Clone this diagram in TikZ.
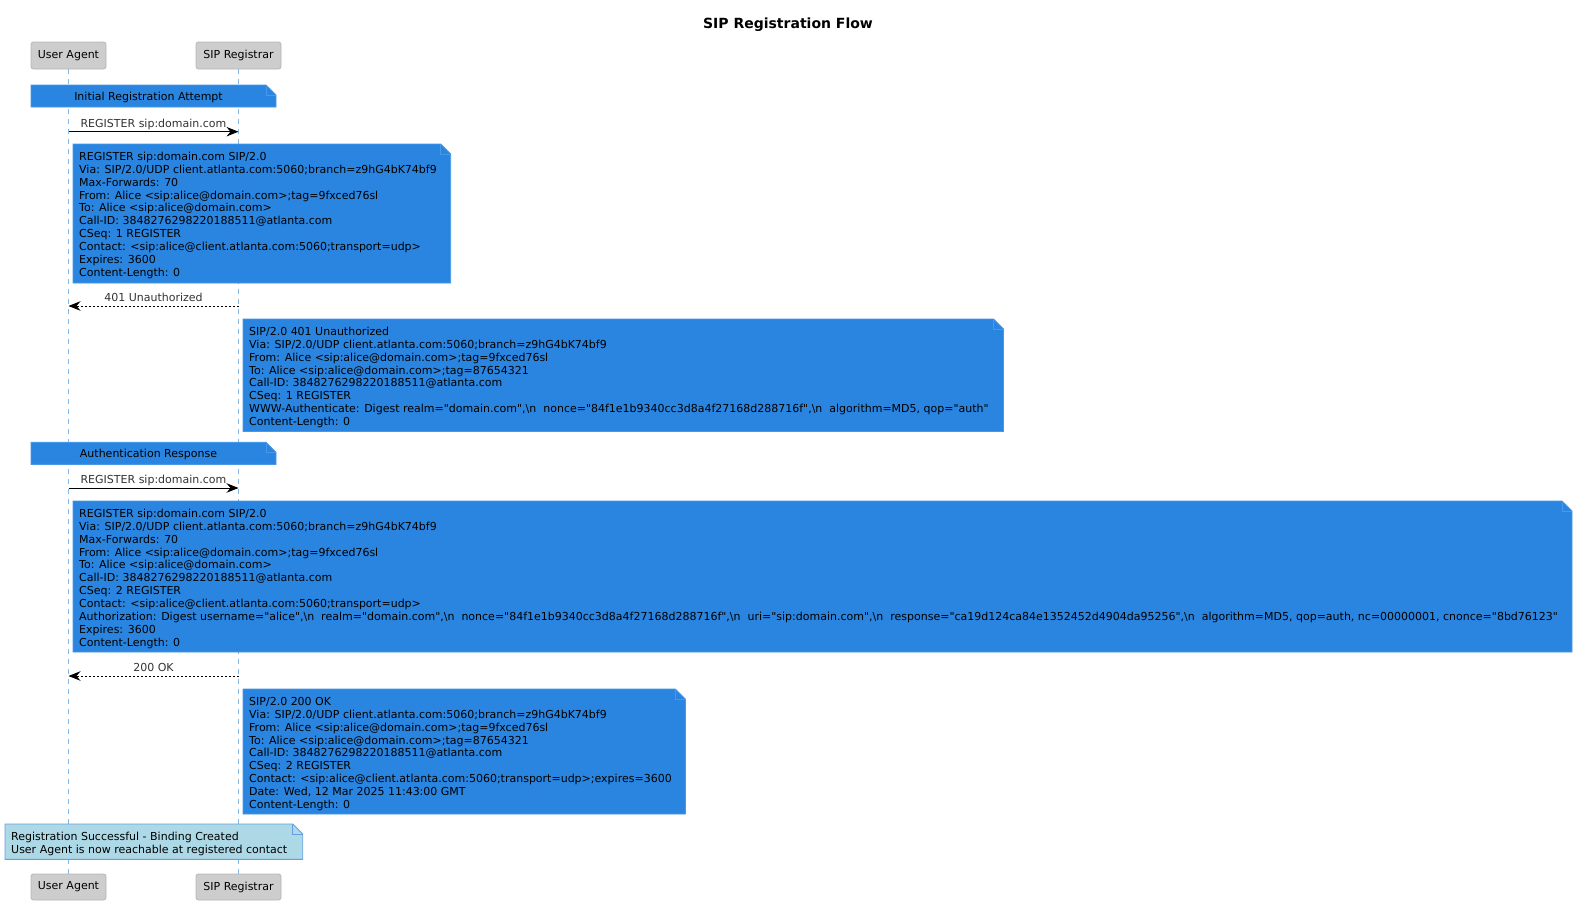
\documentclass[tikz,border=0pt]{standalone}
\usepackage{fontspec}
\setmainfont{DejaVu Sans}[Ligatures=TeXOff]
\usetikzlibrary{arrows.meta}
\definecolor{noteblue}{RGB}{42,133,224}
\definecolor{noteedge}{RGB}{72,152,232}
\definecolor{lightnote}{RGB}{173,216,230}
\definecolor{lightedge}{RGB}{100,160,225}
\definecolor{lifeblue}{RGB}{130,185,235}
\definecolor{partfill}{RGB}{205,205,205}
\definecolor{partedge}{RGB}{182,182,182}
\definecolor{msgtext}{RGB}{51,51,51}
\newcommand\bsn{\textbackslash n\ \ }
\newcommand\fl{\rule{0pt}{9pt}}
% name, x1, y1, x2, y2, style
\newcommand\notebox[6]{%
  \filldraw[#6] (#2,#3) -- (#4-10,#3) -- (#4,#3+10) -- (#4,#5) -- (#2,#5) -- cycle;
  \draw[#6,fill=none] (#4-10,#3) -- (#4-10,#3+10) -- (#4,#3+10);
  \coordinate (#1) at (#2+6,#3+7.3);
}
\tikzset{
  part/.style={draw=partedge, fill=partfill, rounded corners=2.5pt, line width=0.8pt,
    inner sep=0pt, font=\fontsize{11}{13}\selectfont, text=black},
  bluenote/.style={fill=noteblue, draw=noteedge, line width=0.9pt},
  greennote/.style={fill=lightnote, draw=lightedge, line width=0.9pt},
  notetext/.style={anchor=north west, inner sep=0pt, align=left,
    font=\fontsize{11}{12.85}\selectfont, text=black},
  sectext/.style={anchor=base, inner sep=0pt, font=\fontsize{11}{13}\selectfont, text=black},
  lifeline/.style={draw=lifeblue, line width=0.9pt, dash pattern=on 5pt off 5pt},
  msg/.style={draw=black, line width=0.9pt, -{Stealth[length=12pt,width=9.5pt,inset=4pt]}},
  reply/.style={msg, dash pattern=on 2pt off 2pt},
  msglabel/.style={anchor=base, inner sep=0pt, font=\fontsize{11}{13}\selectfont, text=msgtext, yshift=4.5pt}
}
\begin{document}
\begin{tikzpicture}[x=1pt,y=-1pt]
\useasboundingbox (0,0) rectangle (1578,905);
\fill[white] (0,0) rectangle (1578,905);

\node[anchor=base, inner sep=0pt, font=\fontsize{14}{16}\selectfont\bfseries] (title) at (788,28) {SIP Registration Flow};

% participants
\node[part, minimum width=75pt, minimum height=27pt] (ua) at (68.5,55.5) {User Agent};
\node[part, minimum width=85pt, minimum height=27pt] (sr) at (238.5,55.5) {SIP Registrar};
\node[part, minimum width=75pt, minimum height=26pt] (ua2) at (68.5,887) {User Agent};
\node[part, minimum width=85pt, minimum height=26pt] (sr2) at (238.5,887) {SIP Registrar};

\draw[lifeline] (ua.south) -- (ua2.north);
\draw[lifeline] (sr.south) -- (sr2.north);

% section: initial attempt
\notebox{s1}{31}{85}{276}{107}{bluenote}
\node[sectext] (s1t) at (148.5,100) {Initial Registration Attempt};

% message 1
\coordinate (m1a) at (68.5,131.7);
\coordinate (m1b) at (238.5,131.7);
\draw[msg] (m1a) -- (m1b) node[msglabel, pos=0.5] (m1l) {REGISTER sip:domain.com};

\notebox{n1}{73}{144}{450.7}{283}{bluenote}
\node[notetext] (n1t) at (n1) {\fl REGISTER sip:domain.com SIP/2.0\\
Via: SIP/2.0/UDP client.atlanta.com:5060;branch=z9hG4bK74bf9\\
Max-Forwards: 70\\
From: Alice <sip:alice@domain.com>;tag=9fxced76sl\\
To: Alice <sip:alice@domain.com>\\
Call-ID: 3848276298220188511@atlanta.com\\
CSeq: 1 REGISTER\\
Contact: <sip:alice@client.atlanta.com:5060;transport=udp>\\
Expires: 3600\\
Content-Length: 0};

% message 2
\coordinate (m2a) at (238.5,306);
\coordinate (m2b) at (68.5,306);
\draw[reply] (m2a) -- (m2b) node[msglabel, pos=0.5] (m2l) {401 Unauthorized};

\notebox{n2}{243}{319}{1003.5}{431.5}{bluenote}
\node[notetext] (n2t) at (n2) {\fl SIP/2.0 401 Unauthorized\\
Via: SIP/2.0/UDP client.atlanta.com:5060;branch=z9hG4bK74bf9\\
From: Alice <sip:alice@domain.com>;tag=9fxced76sl\\
To: Alice <sip:alice@domain.com>;tag=87654321\\
Call-ID: 3848276298220188511@atlanta.com\\
CSeq: 1 REGISTER\\
WWW-Authenticate: Digest realm="domain.com",\bsn nonce="84f1e1b9340cc3d8a4f27168d288716f",\bsn algorithm=MD5, qop="auth"\\
Content-Length: 0};

% section: authentication response
\notebox{s2}{31}{442.3}{276}{464.3}{bluenote}
\node[sectext] (s2t) at (148.5,457.3) {Authentication Response};

% message 3
\coordinate (m3a) at (68.5,488);
\coordinate (m3b) at (238.5,488);
\draw[msg] (m3a) -- (m3b) node[msglabel, pos=0.5] (m3l) {REGISTER sip:domain.com};

\notebox{n3}{73}{501}{1572}{652}{bluenote}
\node[notetext] (n3t) at (n3) {\fl REGISTER sip:domain.com SIP/2.0\\
Via: SIP/2.0/UDP client.atlanta.com:5060;branch=z9hG4bK74bf9\\
Max-Forwards: 70\\
From: Alice <sip:alice@domain.com>;tag=9fxced76sl\\
To: Alice <sip:alice@domain.com>\\
Call-ID: 3848276298220188511@atlanta.com\\
CSeq: 2 REGISTER\\
Contact: <sip:alice@client.atlanta.com:5060;transport=udp>\\
Authorization: Digest username="alice",\bsn realm="domain.com",\bsn nonce="84f1e1b9340cc3d8a4f27168d288716f",\bsn uri="sip:domain.com",\bsn response="ca19d124ca84e1352452d4904da95256",\bsn algorithm=MD5, qop=auth, nc=00000001, cnonce="8bd76123"\\
Expires: 3600\\
Content-Length: 0};

% message 4
\coordinate (m4a) at (238.5,676);
\coordinate (m4b) at (68.5,676);
\draw[reply] (m4a) -- (m4b) node[msglabel, pos=0.5] (m4l) {200 OK};

\notebox{n4}{243}{689}{685.3}{814}{bluenote}
\node[notetext] (n4t) at (n4) {\fl SIP/2.0 200 OK\\
Via: SIP/2.0/UDP client.atlanta.com:5060;branch=z9hG4bK74bf9\\
From: Alice <sip:alice@domain.com>;tag=9fxced76sl\\
To: Alice <sip:alice@domain.com>;tag=87654321\\
Call-ID: 3848276298220188511@atlanta.com\\
CSeq: 2 REGISTER\\
Contact: <sip:alice@client.atlanta.com:5060;transport=udp>;expires=3600\\
Date: Wed, 12 Mar 2025 11:43:00 GMT\\
Content-Length: 0};

% final note
\notebox{n5}{5}{824}{302.7}{859.3}{greennote}
\node[notetext] (n5t) at (n5) {\fl Registration Successful - Binding Created\\
User Agent is now reachable at registered contact};

\end{tikzpicture}
\end{document}
